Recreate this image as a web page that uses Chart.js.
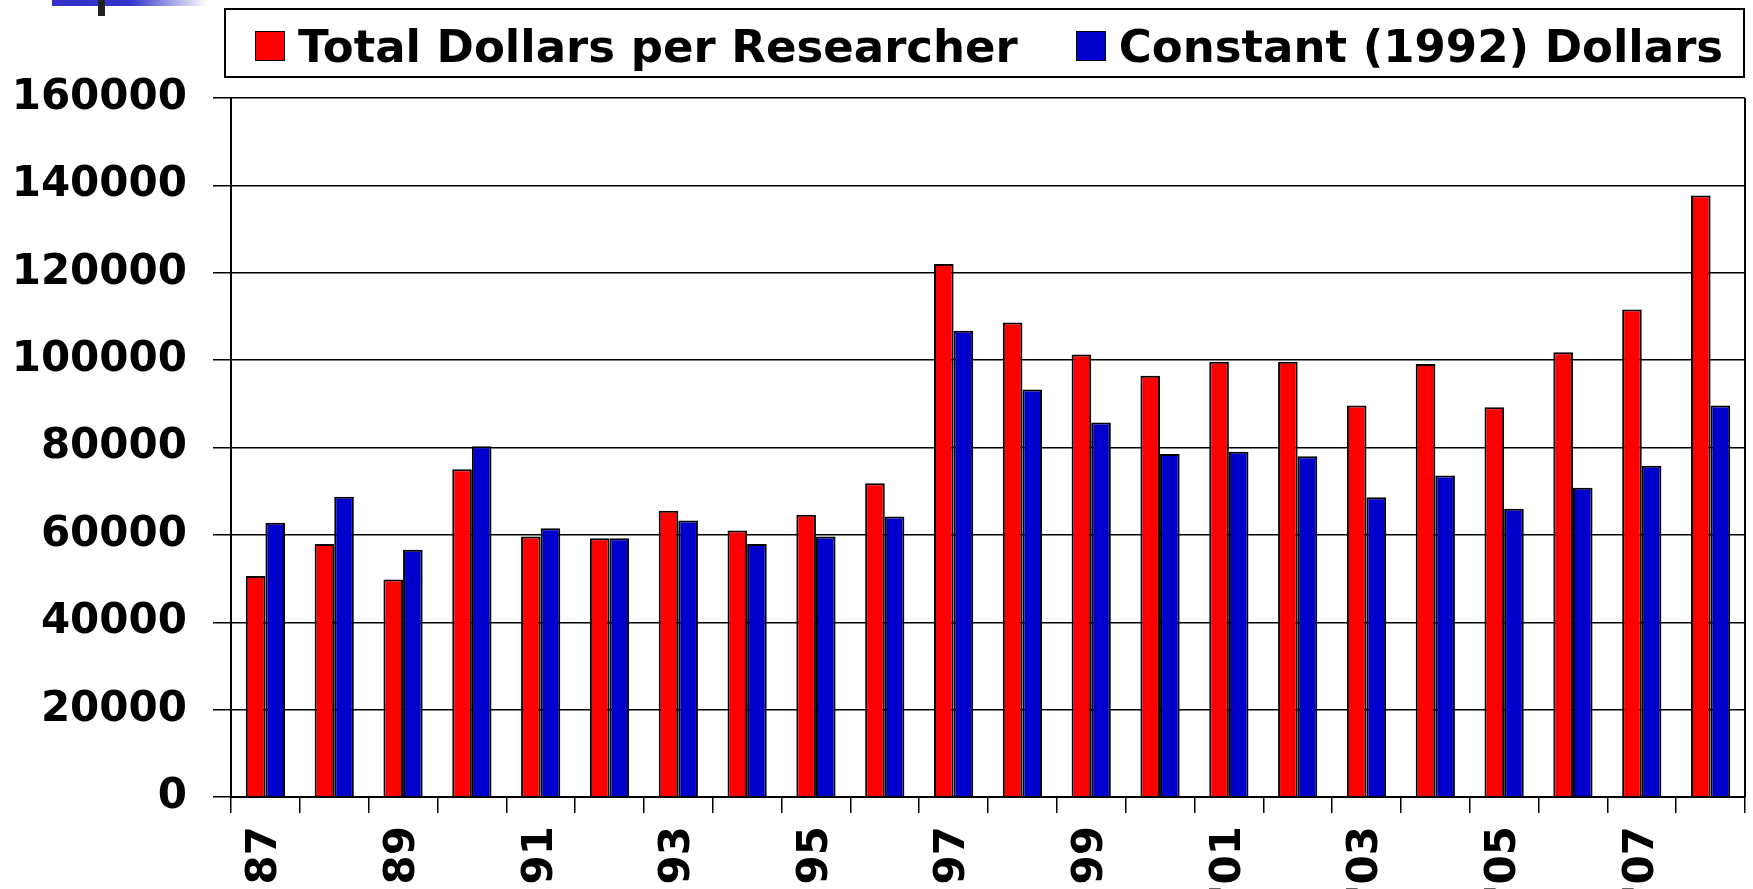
<!DOCTYPE HTML>
<html lang="en">
<head>
    <meta charset="utf-8">
    <title>Dollars per Researcher</title>
    <script src="https://cdn.jsdelivr.net/npm/chart.js@4.4.1/dist/chart.umd.min.js"></script>
    <style>
        body {
            margin: 0;
            background: #fff;
            font-family: "DejaVu Sans", Verdana, sans-serif;
        }

        #wrap {
            position: relative;
            width: 1753px;
            height: 889px;
        }

        #legend {
            position: absolute;
            left: 224px;
            top: 8px;
            width: 1521px;
            height: 70px;
            box-sizing: border-box;
            border: 2px solid #000;
            display: flex;
            align-items: center;
            padding-left: 29px;
            padding-top: 6px;
            font-weight: bold;
            font-size: 45px;
            color: #000;
        }

        .item {
            display: flex;
            align-items: center;
        }

        .item + .item {
            margin-left: 58px;
        }

        .swatch {
            width: 30px;
            height: 30px;
            box-sizing: border-box;
            border: 1.5px solid #000;
            margin-right: 13px;
        }
    </style>
</head>
<body>
    <div id="wrap">
        <canvas id="chart"></canvas>
        <div id="legend"></div>
    </div>

    <script>
        const years = ['87', '88', '89', '90', '91', '92', '93', '94', '95', '96', '97', '98', '99',
                       "'00", "'01", "'02", "'03", "'04", "'05", "'06", "'07", "'08"];
        const totalDollars = [50600, 57900, 49800, 75000, 59600, 59200, 65500, 61000, 64600, 71800, 122000,
                              108600, 101300, 96400, 99600, 99600, 89600, 99100, 89200, 101800, 111600, 137700];
        const constantDollars = [62800, 68700, 56600, 80300, 61500, 59200, 63300, 57900, 59600, 64200, 106700,
                                 93300, 85700, 78500, 79000, 78000, 68600, 73600, 66000, 70800, 75800, 89600];
        const seriesNames = ['Total Dollars per Researcher', 'Constant (1992) Dollars'];
        const seriesColors = ['#ff0000', '#0000cc'];
        const yMin = 0;
        const yMax = 160000;
        const yStep = 20000;

        const tickFont = { family: '"DejaVu Sans", Verdana, sans-serif', size: 42, weight: 'bold' };

        // slide decoration in the top-left corner and the right frame of the plot
        const frame = {
            id: 'frame',
            beforeDraw(chart) {
                const ctx = chart.ctx;
                ctx.save();
                const g = ctx.createLinearGradient(52, 0, 207, 0);
                g.addColorStop(0, '#3333cc');
                g.addColorStop(0.5, '#3333cc');
                g.addColorStop(1, '#ffffff');
                ctx.fillStyle = g;
                ctx.fillRect(52, 0, 155, 6);
                ctx.fillStyle = '#222';
                ctx.fillRect(98, 0, 7, 16);
                ctx.restore();
            },
            afterDraw(chart) {
                const { ctx, chartArea } = chart;
                ctx.save();
                ctx.strokeStyle = '#000';
                ctx.lineWidth = 2;
                ctx.beginPath();
                ctx.moveTo(chartArea.right, chartArea.top);
                ctx.lineTo(chartArea.right, chartArea.bottom);
                ctx.stroke();
                ctx.restore();
            }
        };

        const chart = new Chart(document.getElementById('chart'), {
            type: 'bar',
            data: {
                labels: years,
                datasets: [{
                    label: seriesNames[0],
                    data: totalDollars,
                    backgroundColor: seriesColors[0],
                    borderColor: '#000',
                    borderWidth: 2
                }, {
                    label: seriesNames[1],
                    data: constantDollars,
                    backgroundColor: seriesColors[1],
                    borderColor: '#000',
                    borderWidth: 2
                }]
            },
            options: {
                responsive: true,
                maintainAspectRatio: false,
                animation: false,
                layout: { padding: { top: 98, right: 8, left: 0, bottom: 0 } },
                datasets: { bar: { categoryPercentage: 0.57, barPercentage: 1.0 } },
                plugins: {
                    legend: { display: false },
                    tooltip: { enabled: false }
                },
                scales: {
                    x: {
                        grid: { drawOnChartArea: false, offset: true, tickLength: 16, color: '#000', lineWidth: 1.5 },
                        border: { color: '#000', width: 2 },
                        ticks: {
                            autoSkip: false,
                            minRotation: 90,
                            maxRotation: 90,
                            padding: 13,
                            color: '#000',
                            font: tickFont,
                            callback: function (value, index) {
                                return index % 2 === 0 ? this.getLabelForValue(value) : '';
                            }
                        },
                        afterFit: scale => {
                            scale.height = 92;
                            scale.paddingLeft = 0;
                            scale.paddingRight = 0;
                        }
                    },
                    y: {
                        min: yMin,
                        max: yMax,
                        grid: { color: '#000', lineWidth: 1.5, tickLength: 18 },
                        border: { color: '#000', width: 2 },
                        ticks: {
                            stepSize: yStep,
                            padding: 26,
                            color: '#000',
                            font: tickFont,
                            callback: value => String(value)
                        },
                        afterFit: scale => { scale.width = 231; }
                    }
                }
            },
            plugins: [frame]
        });

        // legend box built from the datasets
        const legendEl = document.getElementById('legend');
        chart.data.datasets.forEach(ds => {
            const item = document.createElement('div');
            item.className = 'item';
            const sw = document.createElement('span');
            sw.className = 'swatch';
            sw.style.background = ds.backgroundColor;
            const txt = document.createElement('span');
            txt.textContent = ds.label;
            item.appendChild(sw);
            item.appendChild(txt);
            legendEl.appendChild(item);
        });
    </script>
</body>
</html>
